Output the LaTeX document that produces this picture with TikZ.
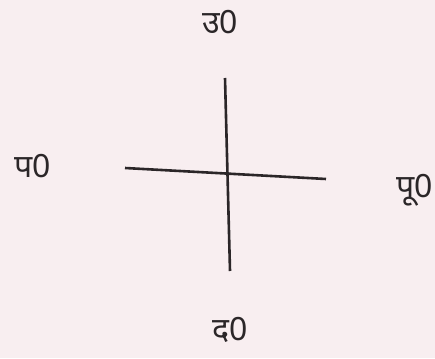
\documentclass[tikz,border=0pt]{standalone}
\usepackage{fontspec}
\newfontfamily\deva[Script=Devanagari]{Noto Sans}
\definecolor{bgpink}{HTML}{F8EEF0}
\definecolor{ink}{HTML}{2B2628}
\begin{document}
\begin{tikzpicture}[x=1pt,y=-1pt,
  lbl/.style={font=\deva\fontsize{32}{36}\selectfont, text=ink, inner sep=0pt},
  axis/.style={draw=ink, line width=2.6pt}]
\fill[bgpink] (0,0) rectangle (435,358);
\useasboundingbox (0,0) rectangle (435,358);
\coordinate (n) at (225,78);
\coordinate (s) at (230,271);
\coordinate (w) at (125,168);
\coordinate (e) at (326,179);
\draw[axis] (n) -- (s);
\draw[axis] (w) -- (e);
\node[lbl] (ut) at (220,22) {उ0};
\node[lbl] (pa) at (33,166) {प0};
\node[lbl] (pu) at (415,190) {पू0};
\node[lbl] (da) at (230,330) {द0};
\end{tikzpicture}
\end{document}
